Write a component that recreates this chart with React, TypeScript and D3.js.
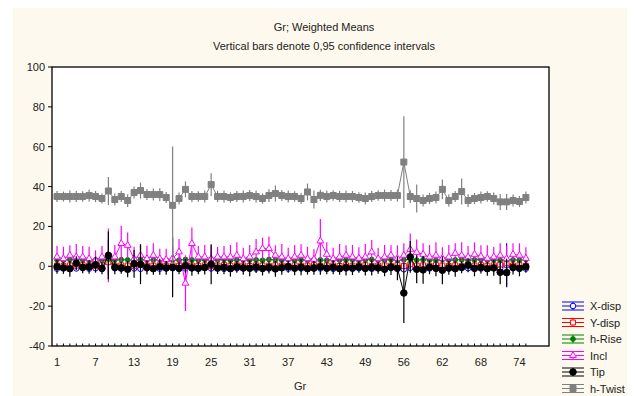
import React from 'react';
import * as d3 from 'd3';

const gr = [
  1, 2, 3, 4, 5, 6, 7, 8, 9, 10, 11, 12, 13, 14, 15, 16, 17, 18, 19, 20,
  21, 22, 23, 24, 25, 26, 27, 28, 29, 30, 31, 32, 33, 34, 35, 36, 37, 38, 39, 40,
  41, 42, 43, 44, 45, 46, 47, 48, 49, 50, 51, 52, 54, 55, 56, 57, 58, 59, 60, 61,
  62, 63, 64, 65, 66, 67, 68, 69, 70, 71, 72, 73, 74, 75,
];

const xDisp = [
  -1.2, -1.0, -1.3, -1.1, -0.9, -1.2, -1.0, -1.4, 3.5, -1.0,
  -1.2, -0.8, -1.1, -1.3, -1.0, -0.9, -1.2, -1.1, -1.0, -1.3,
  -1.1, -1.0, -1.2, -0.9, -1.1, -1.0, -1.3, -1.2, -1.0, -1.1,
  -0.9, -1.2, -1.0, -1.1, -1.3, -1.0, -1.2, -0.9, -1.1, -1.0,
  -1.2, -1.1, -1.0, -1.3, -0.9, -1.1, -1.2, -1.0, -1.1, -1.3,
  -1.0, -1.2, -0.9, -1.1, -1.5, -0.8, -1.2, -1.0, -1.1, -1.3,
  -1.0, -1.2, -1.1, -0.9, -1.0, -1.2, -1.1, -1.3, -1.0, -1.2,
  0.5, -1.0, -1.1, -1.2,
];
const xDispCi = [
  1.2, 1.1, 1.3, 1.2, 1.0, 1.2, 1.1, 1.3, 10, 1.2,
  1.1, 1.2, 1.3, 1.2, 1.1, 1.0, 1.2, 1.3, 1.1, 1.2,
  1.2, 1.1, 1.0, 1.2, 1.3, 1.1, 1.2, 1.0, 1.2, 1.1,
  1.3, 1.2, 1.1, 1.0, 1.2, 1.1, 1.3, 1.2, 1.1, 1.2,
  1.0, 1.2, 1.1, 1.3, 1.2, 1.1, 1.0, 1.2, 1.1, 1.2,
  1.3, 1.1, 1.2, 1.0, 1.6, 1.4, 1.2, 1.1, 1.3, 1.2,
  1.1, 1.0, 1.2, 1.3, 1.1, 1.2, 1.0, 1.1, 1.3, 1.5,
  11, 1.2, 1.1, 1.2,
];

const yDisp = [
  0.4, 0.2, 0.5, 0.3, 0.6, 0.4, 0.2, 0.5, 2.0, 0.3,
  0.5, 0.4, 0.2, 0.6, 0.3, 0.4, 0.5, 0.2, 0.4, 0.3,
  0.6, 0.4, 0.3, 0.5, 0.2, 0.4, 0.6, 0.3, 0.5, 0.4,
  0.2, 0.5, 0.4, 0.3, 0.6, 0.4, 0.2, 0.5, 0.3, 0.4,
  0.6, 0.3, 0.5, 0.4, 0.2, 0.5, 0.3, 0.4, 0.6, 0.2,
  0.4, 0.5, 0.3, 0.6, 0.2, 1.0, 0.4, 0.5, 0.3, 0.6,
  0.4, 0.2, 0.5, 0.3, 0.8, 0.4, 0.6, 0.3, 0.5, 0.9,
  1.5, 0.4, 0.6, 0.3,
];
const yDispCi = [
  1.5, 1.4, 1.6, 1.5, 1.3, 1.5, 1.4, 1.6, 6.0, 1.5,
  1.4, 1.5, 1.6, 1.4, 1.5, 1.3, 1.5, 1.6, 1.4, 1.5,
  1.5, 1.4, 1.3, 1.5, 1.6, 1.4, 1.5, 1.3, 1.5, 1.4,
  1.6, 1.5, 1.4, 1.3, 1.5, 1.4, 1.6, 1.5, 1.4, 1.5,
  1.3, 1.5, 1.4, 1.6, 1.5, 1.4, 1.3, 1.5, 1.4, 1.5,
  1.6, 1.4, 1.5, 1.3, 2.0, 2.5, 1.5, 1.4, 1.6, 1.5,
  1.4, 1.3, 1.5, 1.6, 1.8, 1.5, 1.3, 1.4, 1.6, 2.5,
  3.0, 1.5, 1.4, 1.5,
];

const hRise = [
  3.2, 3.0, 3.4, 3.1, 3.3, 2.9, 3.2, 3.0, 3.6, 3.1,
  3.3, 3.2, 3.0, 3.4, 3.1, 3.2, 3.3, 3.0, 3.2, 3.1,
  3.4, 3.2, 3.0, 3.3, 3.1, 3.2, 3.4, 3.0, 3.2, 3.3,
  3.1, 3.2, 3.0, 3.4, 3.2, 3.1, 3.3, 3.0, 3.2, 3.1,
  3.3, 3.2, 3.0, 3.4, 3.1, 3.2, 3.3, 3.0, 3.2, 3.4,
  3.1, 3.2, 3.3, 3.0, 3.2, 3.5, 3.1, 3.3, 3.2, 3.0,
  3.4, 3.1, 3.2, 3.3, 3.0, 3.2, 3.4, 3.1, 3.2, 3.0,
  3.3, 3.2, 3.1, 3.4,
];
const hRiseCi = [
  1.0, 0.9, 1.1, 1.0, 0.9, 1.0, 1.1, 0.9, 2.0, 1.0,
  0.9, 1.0, 1.1, 1.0, 0.9, 1.0, 1.0, 1.1, 0.9, 1.0,
  1.0, 0.9, 1.1, 1.0, 1.0, 0.9, 1.0, 1.1, 0.9, 1.0,
  1.1, 1.0, 0.9, 1.0, 1.0, 1.1, 0.9, 1.0, 1.0, 0.9,
  1.0, 1.1, 0.9, 1.0, 1.0, 0.9, 1.1, 1.0, 0.9, 1.0,
  1.0, 1.1, 0.9, 1.0, 1.2, 1.3, 1.0, 0.9, 1.1, 1.0,
  0.9, 1.0, 1.1, 1.0, 0.9, 1.0, 1.0, 1.1, 0.9, 1.2,
  1.3, 1.0, 0.9, 1.0,
];

const incl = [
  4.7, 3.8, 5.5, 4.7, 4.7, 3.8, 3.0, 4.7, 5.5, 4.7,
  11.4, 10.5, 3.8, 5.5, 3.8, 5.5, 3.8, 3.3, 4.0, 7.2,
  -8.5, 11.4, 4.7, 4.7, 3.8, 4.7, 4.7, 4.7, 5.5, 3.8,
  4.7, 7.2, 8.9, 8.9, 5.5, 4.7, 3.8, 4.7, 5.5, 3.8,
  3.5, 12.7, 6.0, 3.8, 4.7, 5.5, 4.7, 4.0, 4.7, 7.2,
  3.8, 4.7, 5.5, 4.0, 5.5, 8.5, 7.0, 6.0, 4.7, 5.5,
  4.0, 4.7, 6.5, 5.5, 4.7, 6.0, 5.0, 4.0, 4.7, 5.5,
  3.8, 6.0, 5.5, 4.0,
];
const inclCi = [
  5.5, 6.0, 5.0, 6.5, 5.5, 6.0, 5.0, 5.5, 13.5, 6.0,
  9.0, 6.5, 6.0, 5.5, 6.5, 6.0, 5.0, 5.5, 6.0, 6.5,
  14.0, 8.0, 5.5, 6.0, 6.5, 5.0, 5.5, 6.0, 6.5, 5.5,
  6.0, 6.5, 5.5, 6.0, 5.0, 6.5, 5.5, 6.0, 5.5, 6.0,
  5.0, 11.0, 6.0, 5.5, 6.5, 5.0, 6.0, 5.5, 6.5, 6.0,
  5.5, 6.0, 5.0, 6.5, 6.0, 8.0, 6.5, 5.5, 6.0, 6.5,
  5.5, 6.0, 5.0, 6.5, 5.5, 6.0, 5.5, 6.5, 5.0, 6.0,
  6.5, 5.5, 6.0, 5.5,
];

const tip = [
  -0.2, -0.8, -1.2, 1.5, -0.5, -0.3, 0.8, -1.0, 5.5, -0.5,
  -0.8, -1.5, 1.2, 1.0, -0.6, -1.2, -0.2, -0.8, -0.5, -1.0,
  0.2, -0.8, -1.0, -0.6, 1.0, -0.9, -0.5, -1.2, -0.3, -0.8,
  -1.0, -0.4, -1.1, -0.6, -1.3, -0.7, -0.2, -1.0, -0.5, -1.2,
  -0.8, -0.3, -1.0, -0.5, -1.2, -0.6, -0.9, -0.3, -1.1, -0.6,
  -0.8, -1.5, -0.4, -1.0, -13.4, 4.7, -1.5, -1.8, -0.5, -1.0,
  -2.0, -0.8, -1.2, -0.5, 0.5, -1.0, -0.6, -1.2, -0.8, -3.0,
  -3.2, -0.6, -1.0, -0.2,
];
const tipCi = [
  3.5, 3.0, 4.0, 3.5, 3.0, 3.5, 4.0, 3.0, 12.0, 3.5,
  3.0, 4.0, 7.0, 10.0, 3.5, 3.0, 4.0, 3.5, 15.0, 3.0,
  3.5, 4.0, 3.0, 3.5, 10.0, 3.0, 3.5, 4.0, 3.0, 3.5,
  4.0, 3.0, 3.5, 3.0, 4.0, 3.5, 3.0, 3.5, 4.0, 3.0,
  3.5, 4.0, 3.0, 3.5, 3.0, 4.0, 3.5, 3.0, 3.5, 4.0,
  3.0, 3.5, 4.0, 6.0, 15.0, 8.0, 7.0, 7.0, 3.5, 4.0,
  7.0, 3.5, 4.0, 3.0, 3.5, 4.0, 3.0, 3.5, 4.0, 6.0,
  7.0, 3.5, 4.0, 3.0,
];

const hTwist = [
  35.0, 35.0, 35.0, 35.0, 35.0, 35.5, 35.0, 34.0, 37.8, 33.5,
  35.0, 33.0, 37.0, 38.0, 36.0, 36.0, 36.0, 34.5, 30.6, 34.0,
  38.6, 35.0, 35.0, 35.0, 41.0, 35.0, 35.0, 34.5, 35.0, 35.0,
  35.5, 35.0, 34.0, 35.5, 36.5, 35.5, 35.0, 35.0, 34.0, 37.3,
  33.5, 35.6, 35.0, 35.5, 35.0, 35.0, 35.0, 34.5, 34.0, 35.0,
  35.5, 35.5, 35.5, 35.5, 52.3, 35.0, 34.0, 33.0, 34.0, 34.5,
  38.6, 33.0, 35.0, 37.5, 33.0, 34.0, 34.5, 35.0, 34.0, 32.3,
  32.3, 33.0, 32.5, 34.5,
];
const hTwistCi = [
  2.8, 2.5, 3.0, 2.8, 2.6, 3.0, 2.8, 2.5, 7.0, 3.0,
  2.8, 3.2, 3.0, 4.0, 2.8, 3.0, 3.2, 2.8, 29.5, 3.0,
  4.0, 2.8, 2.6, 3.0, 5.7, 2.8, 3.0, 2.6, 2.8, 3.0,
  2.8, 3.0, 2.6, 3.2, 4.0, 2.8, 3.0, 2.6, 2.8, 4.2,
  4.5, 2.8, 3.0, 2.6, 2.8, 3.0, 2.8, 2.6, 3.0, 2.8,
  2.6, 3.0, 2.8, 3.0, 23.0, 3.2, 7.0, 3.0, 2.8, 3.0,
  5.0, 3.0, 2.8, 6.5, 3.2, 2.8, 3.0, 2.6, 3.0, 4.0,
  4.0, 3.0, 2.8, 3.0,
];

const yTicks = [-40, -20, 0, 20, 40, 60, 80, 100];

type Series = {
  name: string;
  color: string;
  mean: number[];
  ci: number[];
  symbol: d3.SymbolType;
  size: number;
  fill: string;
};

const series: Series[] = [
  { name: 'X-disp', color: '#0000ff', mean: xDisp, ci: xDispCi, symbol: d3.symbolCircle, size: 24, fill: '#ffffff' },
  { name: 'Y-disp', color: '#ff0000', mean: yDisp, ci: yDispCi, symbol: d3.symbolSquare, size: 24, fill: '#ffffff' },
  { name: 'h-Rise', color: '#008000', mean: hRise, ci: hRiseCi, symbol: d3.symbolCircle, size: 18, fill: '#008000' },
  { name: 'Incl', color: '#ff00ff', mean: incl, ci: inclCi, symbol: d3.symbolTriangle, size: 20, fill: '#ffffff' },
  { name: 'Tip', color: '#000000', mean: tip, ci: tipCi, symbol: d3.symbolCircle, size: 34, fill: '#000000' },
  { name: 'h-Twist', color: '#808080', mean: hTwist, ci: hTwistCi, symbol: d3.symbolSquare, size: 36, fill: '#808080' },
];

const font = '"Liberation Sans", Arial, sans-serif';

export default function App() {
  const left = 52, right = 549, top = 67, bottom = 346;
  const x = d3.scaleLinear().domain([-0.78, 76.6]).range([left, right]);
  const y = d3.scaleLinear().domain([-40, 100]).range([bottom, top]);
  const line = d3.line<number>().x((_, i) => x(i)).y((d) => y(d));

  return (
    <svg width={627} height={388} style={{ display: 'block' }} fontFamily={font}>
      <g transform="translate(-8,-8)">
        <rect x={13} y={8} width={622} height={388} fill="#fdf9ee" />
        <text x={324} y={31} textAnchor="middle" fontSize={11} fill="#222">Gr; Weighted Means</text>
        <text x={324} y={50} textAnchor="middle" fontSize={11} fill="#222">Vertical bars denote 0,95 confidence intervals</text>

        <rect x={left} y={top} width={right - left} height={bottom - top} fill="#ffffff" />

        <defs>
          <clipPath id="plotclip">
            <rect x={left} y={top} width={right - left} height={bottom - top} />
          </clipPath>
        </defs>

        <g clipPath="url(#plotclip)">
          {series.map((s) => (
            <g key={s.name}>
              <path d={line(s.mean) || ''} fill="none" stroke={s.color} strokeWidth={1} />
              {s.mean.map((m, i) => (
                <line
                  key={i}
                  x1={x(i)}
                  x2={x(i)}
                  y1={y(m - s.ci[i])}
                  y2={y(m + s.ci[i])}
                  stroke={s.color}
                  strokeWidth={1.2}
                />
              ))}
              {s.mean.map((m, i) => (
                <path
                  key={'m' + i}
                  d={d3.symbol().type(s.symbol).size(s.size)() || ''}
                  transform={`translate(${x(i)},${y(m)})`}
                  fill={s.fill}
                  stroke={s.color}
                  strokeWidth={1}
                />
              ))}
            </g>
          ))}
        </g>

        <rect x={left} y={top} width={right - left} height={bottom - top} fill="none" stroke="#000" strokeWidth={1.3} />

        {yTicks.map((t) => (
          <g key={t}>
            <line x1={left - 4} x2={left} y1={y(t)} y2={y(t)} stroke="#000" />
            <text x={left - 7} y={y(t) + 4} textAnchor="end" fontSize={11} fill="#222">{t}</text>
          </g>
        ))}

        {gr.map((g, i) => (
          <g key={g}>
            <line x1={x(i)} x2={x(i)} y1={bottom} y2={bottom - 2.5} stroke="#000" />
            {i % 6 === 0 && (
              <text x={x(i)} y={366} textAnchor="middle" fontSize={11} fill="#222">{g}</text>
            )}
          </g>
        ))}

        <text x={300} y={390} textAnchor="middle" fontSize={11} fill="#222">Gr</text>

        {series.map((s, k) => {
          const ly = 306 + k * 16.5;
          return (
            <g key={s.name}>
              <line x1={562} x2={584} y1={ly - 4} y2={ly - 4} stroke={s.color} />
              <line x1={562} x2={584} y1={ly} y2={ly} stroke={s.color} />
              <line x1={562} x2={584} y1={ly + 4} y2={ly + 4} stroke={s.color} />
              <line x1={573} x2={573} y1={ly - 4} y2={ly + 4} stroke={s.color} />
              <path
                d={d3.symbol().type(s.symbol).size(s.size)() || ''}
                transform={`translate(573,${ly})`}
                fill={s.fill}
                stroke={s.color}
              />
              <text x={590} y={ly + 4} fontSize={11} fill="#222">{s.name}</text>
            </g>
          );
        })}
      </g>
    </svg>
  );
}
